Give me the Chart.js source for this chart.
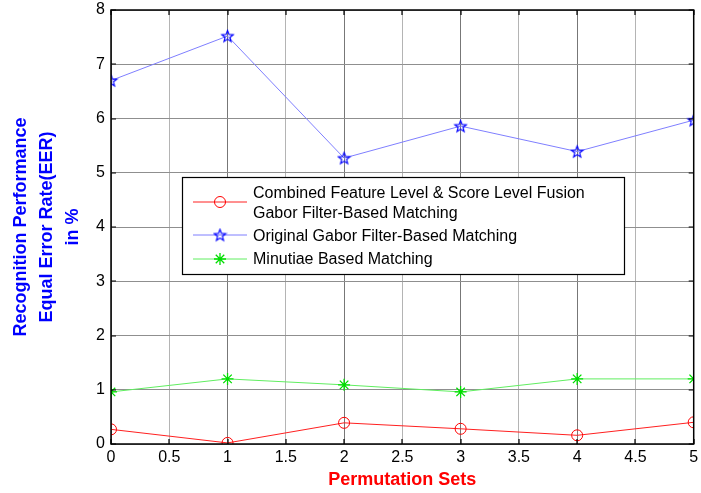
<!DOCTYPE html>
<html><head><meta charset="utf-8">
<script src="https://cdn.jsdelivr.net/npm/chart.js@4.4.0/dist/chart.umd.min.js"></script>
<style>html,body{margin:0;padding:0;background:#fff;overflow:hidden}canvas{display:block}</style>
</head><body>
<canvas id="c" width="701" height="493"></canvas>
<script>
// ---- data ----
const permutationSets = [0, 1, 2, 3, 4, 5];
const combinedFusionEER = [0.27, 0.02, 0.39, 0.28, 0.16, 0.40];
const originalGaborEER = [6.70, 7.52, 5.27, 5.86, 5.39, 5.97];
const minutiaeEER = [0.96, 1.20, 1.09, 0.96, 1.20, 1.20];
const seriesLabels = [
  "Combined Feature Level & Score Level Fusion Gabor Filter-Based Matching",
  "Original Gabor Filter-Based Matching",
  "Minutiae Based Matching"
];
const legendLines = [
  ["Combined Feature Level & Score Level Fusion", "Gabor Filter-Based Matching"],
  ["Original Gabor Filter-Based Matching"],
  ["Minutiae Based Matching"]
];
const xAxisTitle = "Permutation Sets";
const yAxisTitle = ["Recognition Performance", "Equal Error Rate(EER)", "in %"];

const FONT = "'Liberation Sans', Arial, sans-serif";
Chart.defaults.font.family = FONT;

function makePentagram(color) {
  const s = 15, c = document.createElement('canvas');
  c.width = s; c.height = s;
  const g = c.getContext('2d');
  g.strokeStyle = color; g.lineWidth = 1.2;
  g.beginPath();
  const R = 6, r = 2.6, cx = 7.5, cy = 8;
  for (let i = 0; i < 10; i++) {
    const a = -Math.PI / 2 + i * Math.PI / 5;
    const rr = i % 2 ? r : R;
    const px = cx + rr * Math.cos(a), py = cy + rr * Math.sin(a);
    if (i) g.lineTo(px, py); else g.moveTo(px, py);
  }
  g.closePath(); g.stroke();
  return c;
}
const starImg = makePentagram('#0000ff');

const pts = arr => permutationSets.map((x, i) => ({ x: x, y: arr[i] }));

const datasets = [
  { label: seriesLabels[0], data: pts(combinedFusionEER), borderColor: '#ff2020', borderWidth: 1,
    pointStyle: 'circle', pointRadius: 5.5, pointBorderColor: '#ff0000', pointBackgroundColor: 'rgba(0,0,0,0)', pointBorderWidth: 1 },
  { label: seriesLabels[1], data: pts(originalGaborEER), borderColor: '#7f7fff', borderWidth: 1,
    pointStyle: starImg, pointRadius: 6, pointBorderColor: '#0000ff', pointBackgroundColor: 'rgba(0,0,0,0)', pointBorderWidth: 1 },
  { label: seriesLabels[2], data: pts(minutiaeEER), borderColor: '#60ee60', borderWidth: 1,
    pointStyle: 'star', pointRadius: 6, pointBorderColor: '#00dd00', pointBackgroundColor: 'rgba(0,0,0,0)', pointBorderWidth: 1.3 }
];

const framePlugin = {
  id: 'frame',
  afterDraw(chart) {
    const { ctx, chartArea: a, scales: { x, y } } = chart;
    ctx.save();
    ctx.strokeStyle = '#000';
    ctx.lineWidth = 1.5;
    ctx.strokeRect(a.left, a.top, a.right - a.left, a.bottom - a.top);
    ctx.lineWidth = 1.2;
    ctx.beginPath();
    x.ticks.forEach(t => {
      const px = Math.round(x.getPixelForValue(t.value));
      ctx.moveTo(px, a.bottom); ctx.lineTo(px, a.bottom - 5);
      ctx.moveTo(px, a.top); ctx.lineTo(px, a.top + 5);
    });
    y.ticks.forEach(t => {
      const py = Math.round(y.getPixelForValue(t.value));
      ctx.moveTo(a.left, py); ctx.lineTo(a.left + 5, py);
      ctx.moveTo(a.right, py); ctx.lineTo(a.right - 5, py);
    });
    ctx.stroke();

    // legend box
    const bx = 182, by = 177, bw = 442, bh = 97;
    ctx.fillStyle = '#fff';
    ctx.fillRect(bx, by, bw, bh);
    ctx.lineWidth = 1.2;
    ctx.strokeRect(bx + 0.5, by + 0.5, bw, bh);
    const sampleY = [202, 235, 259];
    const textY = [[193.5, 213.5], [237], [260]];
    ctx.font = '16px ' + FONT;
    ctx.textBaseline = 'middle';
    ctx.textAlign = 'left';
    chart.data.datasets.forEach((ds, i) => {
      const yy = sampleY[i];
      ctx.strokeStyle = ds.borderColor;
      ctx.lineWidth = 1;
      ctx.beginPath(); ctx.moveTo(193, yy); ctx.lineTo(247, yy); ctx.stroke();
      ctx.strokeStyle = ds.pointBorderColor;
      ctx.fillStyle = 'rgba(0,0,0,0)';
      ctx.lineWidth = ds.pointBorderWidth;
      Chart.helpers.drawPoint(ctx, { pointStyle: ds.pointStyle, radius: ds.pointRadius, borderWidth: ds.pointBorderWidth, rotation: 0 }, 220, yy);
      ctx.fillStyle = '#000';
      legendLines[i].forEach((line, k) => ctx.fillText(line, 253, textY[i][k]));
    });
    ctx.restore();
  }
};

new Chart(document.getElementById('c'), {
  type: 'line',
  data: { datasets: datasets },
  options: {
    responsive: false,
    animation: false,
    layout: { padding: { top: 10, right: 5, left: 0, bottom: 0 } },
    plugins: { legend: { display: false }, tooltip: { enabled: false } },
    scales: {
      x: {
        type: 'linear', min: 0, max: 5,
        ticks: { stepSize: 0.5, color: '#000', font: { size: 16 }, padding: 4, maxRotation: 0, autoSkip: false,
                 callback: v => String(Number(v)) },
        grid: { drawTicks: false, lineWidth: 1, color: c => (c.tick && c.tick.value % 1 === 0) ? '#777' : '#b4b4b4' },
        border: { display: false },
        title: { display: true, text: xAxisTitle, color: '#ff0000', font: { size: 18, weight: 'bold' }, padding: { top: 0, bottom: 2 } },
        afterFit: s => { s.height = 49; s.paddingLeft = 0; s.paddingRight = 0; }
      },
      y: {
        min: 0, max: 8,
        ticks: { stepSize: 1, color: '#000', font: { size: 16 }, padding: 6 },
        grid: { drawTicks: false, lineWidth: 1, color: '#8f8f8f' },
        border: { display: false },
        title: { display: true, text: yAxisTitle, color: '#0000ff', font: { size: 18, weight: 'bold', lineHeight: 1.45 }, padding: { top: 8, bottom: 0 } },
        afterFit: s => { s.width = 111; s.paddingTop = 0; s.paddingBottom = 0; }
      }
    }
  },
  plugins: [framePlugin]
});
</script>
</body></html>
